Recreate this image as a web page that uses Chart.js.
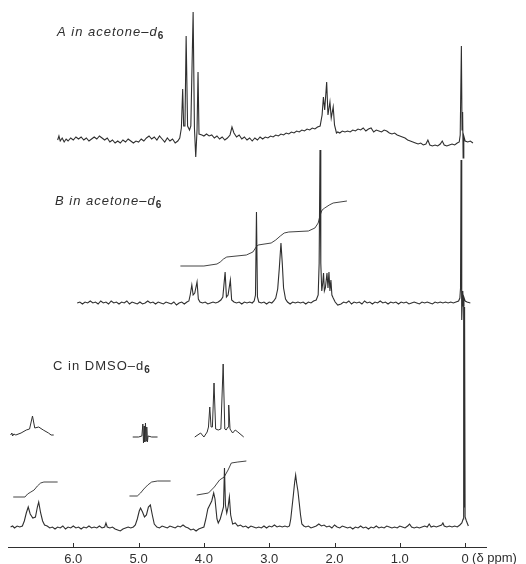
<!DOCTYPE html>
<html>
<head>
<meta charset="utf-8">
<script src="https://cdn.jsdelivr.net/npm/chart.js@4.4.0/dist/chart.umd.min.js"></script>
<style>
  html, body { margin: 0; padding: 0; background: #fff; }
  canvas { display: block; }
</style>
</head>
<body>
<canvas id="nmr" width="526" height="564"></canvas>
<script>
// [chemical shift (ppm), intensity above the trace's own baseline]

const specA = [
  [6.24, 0], [6.22, 4], [6.20, -1], [6.17, 2], [6.14, -2], [6.11, 1], [6.08, -1], [6.04, 2], [6.00, 0],
  [5.96, 3], [5.92, 1], [5.88, 3], [5.84, 0], [5.80, 2], [5.76, -1], [5.72, 1], [5.68, 3], [5.64, 1],
  [5.60, 4], [5.56, 2], [5.52, 0], [5.48, 2], [5.44, -2], [5.40, 0], [5.36, -3], [5.32, -1], [5.28, -3],
  [5.24, 0], [5.20, -2], [5.16, 1], [5.12, -1], [5.08, -3], [5.04, -1], [5.00, -2], [4.96, 1], [4.92, -1],
  [4.88, 2], [4.84, 4], [4.80, 1], [4.76, 3], [4.72, 0], [4.68, 4], [4.64, 1], [4.60, -2], [4.56, 2],
  [4.52, -1], [4.48, 1], [4.44, -3], [4.40, -1], [4.37, 2],
  [4.345, 12], [4.325, 51], [4.31, 14], [4.29, 14], [4.272, 104], [4.25, 14], [4.22, 10], [4.20, 14],
  [4.165, 128], [4.145, 12], [4.125, -17], [4.105, 10], [4.09, 68], [4.075, 6],
  [4.03, 5], [4.00, 4], [3.96, 6], [3.92, 4], [3.88, 5], [3.84, 2], [3.80, 4], [3.76, 1], [3.72, 3],
  [3.68, 0], [3.64, 2], [3.60, 5], [3.57, 13], [3.54, 7], [3.50, 3], [3.46, 5], [3.42, 1], [3.38, 3],
  [3.34, 0], [3.30, 2], [3.26, -1], [3.22, 2], [3.18, 0], [3.14, 3], [3.10, 1], [3.06, 3], [3.02, 2],
  [2.98, 4], [2.94, 3], [2.90, 5], [2.86, 4], [2.82, 6], [2.78, 5], [2.74, 7], [2.70, 6], [2.66, 8],
  [2.62, 7], [2.58, 9], [2.54, 8], [2.50, 10], [2.46, 9], [2.42, 11], [2.38, 10], [2.34, 12], [2.30, 11],
  [2.26, 13], [2.22, 14], [2.19, 25], [2.17, 43], [2.15, 30], [2.12, 58], [2.10, 25], [2.07, 38],
  [2.05, 22], [2.02, 33], [2.00, 15], [1.97, 7],
  [1.95, 8], [1.92, 7], [1.88, 9], [1.84, 8], [1.80, 9], [1.76, 8], [1.72, 10], [1.68, 9], [1.64, 11],
  [1.60, 10], [1.56, 12], [1.52, 9], [1.48, 11], [1.44, 12], [1.40, 8], [1.36, 10], [1.32, 9], [1.28, 8],
  [1.24, 10], [1.20, 9], [1.16, 7], [1.12, 6], [1.08, 7], [1.04, 5], [1.00, 4], [0.96, 3], [0.92, 2],
  [0.88, 0], [0.84, -1], [0.80, -2], [0.76, -3], [0.72, -4], [0.68, -3], [0.64, -5], [0.60, -4],
  [0.57, 0], [0.54, -5], [0.50, -6], [0.46, -5], [0.42, -6], [0.38, -4], [0.35, -1], [0.32, -5],
  [0.28, -6], [0.24, -5], [0.20, -4], [0.16, -5], [0.12, -3], [0.09, -2],
  [0.075, 5], [0.057, 94], [0.047, 10], [0.038, 28], [0.03, -18], [0.02, 4], [0.0, -1], [-0.04, -2],
  [-0.08, -1], [-0.12, -3]
];

const specB = [
  [5.94, 0], [5.90, 1], [5.86, -1], [5.82, 1], [5.78, 0], [5.74, 2], [5.70, 0], [5.66, 1], [5.62, -1],
  [5.58, 2], [5.54, 0], [5.50, 1], [5.46, -1], [5.42, 2], [5.38, 0], [5.34, 1], [5.30, -1], [5.26, 1],
  [5.22, 0], [5.18, 2], [5.14, -1], [5.10, 1], [5.06, 0], [5.02, -1], [4.98, 1], [4.94, -1], [4.90, 0],
  [4.86, 2], [4.82, 0], [4.78, 1], [4.74, -1], [4.70, 1], [4.66, 0], [4.62, -1], [4.58, 1], [4.54, 0],
  [4.50, -1], [4.46, 1], [4.42, -2], [4.38, 0], [4.34, 1], [4.30, -1], [4.26, 1], [4.23, 2],
  [4.21, 8], [4.185, 18], [4.165, 8], [4.14, 10], [4.105, 21], [4.085, 4], [4.06, 1],
  [4.02, 0], [3.98, 1], [3.94, -1], [3.90, 0], [3.86, 1], [3.82, 0], [3.78, 1], [3.74, 3], [3.71, 6],
  [3.675, 31], [3.655, 6], [3.63, 8], [3.595, 23], [3.575, 3], [3.54, 1],
  [3.50, 0], [3.46, 1], [3.42, -1], [3.38, 1], [3.34, 0], [3.30, 1], [3.26, 0], [3.23, 2],
  [3.21, 8], [3.195, 91], [3.18, 6], [3.16, 1],
  [3.12, 0], [3.08, 1], [3.04, -1], [3.00, 1], [2.96, 0], [2.93, 2],
  [2.90, 5], [2.87, 14], [2.845, 35], [2.82, 60], [2.80, 40], [2.78, 15], [2.75, 4], [2.72, 1],
  [2.68, -1], [2.64, 1], [2.60, 0], [2.56, 1], [2.52, 0], [2.48, 1], [2.44, -1], [2.40, 1], [2.36, 0],
  [2.32, 2], [2.28, 3], [2.25, 8], [2.235, 40], [2.222, 153], [2.21, 40], [2.195, 12], [2.18, 20],
  [2.168, 30], [2.155, 12], [2.14, 15], [2.115, 30], [2.10, 15], [2.085, 31], [2.07, 12], [2.055, 23],
  [2.04, 8], [2.02, 5], [1.99, 1], [1.95, -2],
  [1.90, -1], [1.86, 1], [1.82, 0], [1.78, 2], [1.74, -1], [1.70, 1], [1.66, 0], [1.62, 1], [1.58, -1],
  [1.54, 2], [1.50, 0], [1.46, 1], [1.42, -1], [1.38, 1], [1.34, 0], [1.30, 2], [1.26, 0], [1.22, 1],
  [1.18, -1], [1.14, 1], [1.10, 0], [1.06, 1], [1.02, -1], [0.98, 1], [0.94, 0], [0.90, 1], [0.86, -1],
  [0.82, 0], [0.78, 1], [0.74, 0], [0.70, -1], [0.66, 1], [0.62, 0], [0.58, 1], [0.54, 0], [0.50, -1],
  [0.46, 1], [0.42, 0], [0.38, 1], [0.34, 0], [0.30, 1], [0.26, 0], [0.22, 1], [0.18, 0], [0.14, 1],
  [0.10, 2], [0.08, 5], [0.07, 15], [0.062, 143], [0.055, 20], [0.048, -17], [0.04, 8], [0.035, 12],
  [0.03, -3], [0.02, 6], [0.0, 2], [-0.03, 1], [-0.08, 0]
];

const specC = [
  [6.96, 0], [6.93, 1], [6.90, -1], [6.86, 1], [6.82, 0], [6.78, 1], [6.75, 6], [6.72, 14], [6.69, 20],
  [6.66, 13], [6.62, 9], [6.58, 10], [6.55, 20], [6.53, 25], [6.50, 14], [6.47, 6], [6.44, 2], [6.40, 1],
  [6.36, -1], [6.32, 0], [6.28, -2], [6.24, 0], [6.20, -1], [6.16, 1], [6.12, -2], [6.08, 0], [6.04, -1],
  [6.00, 1], [5.96, -1], [5.92, 0], [5.88, -2], [5.84, 0], [5.80, -1], [5.76, 1], [5.72, -1], [5.68, 0],
  [5.64, -1], [5.60, 1], [5.56, -1], [5.52, 0], [5.50, 4], [5.48, 0], [5.44, -1], [5.40, 0], [5.36, -2],
  [5.32, -3], [5.28, -4], [5.24, -2], [5.20, -1], [5.16, 0], [5.12, -1], [5.08, 0], [5.05, 2], [5.02, 8],
  [4.99, 16], [4.97, 19], [4.94, 15], [4.91, 10], [4.88, 12], [4.85, 20], [4.82, 22], [4.79, 12],
  [4.76, 3], [4.72, 0], [4.68, -1], [4.64, 1], [4.60, 0], [4.56, -1], [4.52, 1], [4.48, 0], [4.44, -1],
  [4.40, 1], [4.36, 0], [4.32, 2], [4.28, 0], [4.24, -1], [4.20, -3], [4.16, -2], [4.12, -4], [4.08, -2],
  [4.04, -1], [4.00, 0], [3.97, 8], [3.94, 18], [3.91, 22], [3.88, 26], [3.85, 34], [3.83, 28],
  [3.80, 8], [3.78, 4], [3.75, 8], [3.70, 20], [3.685, 59], [3.67, 22], [3.65, 14], [3.63, 20],
  [3.61, 30], [3.59, 12], [3.56, 3], [3.52, 4], [3.48, 1], [3.44, 2], [3.40, 0], [3.36, 1], [3.32, -1],
  [3.28, 1], [3.24, 0], [3.20, -1], [3.16, 0], [3.12, -1], [3.08, 1], [3.04, -1], [3.00, 1], [2.96, 0],
  [2.92, 2], [2.88, 0], [2.84, 1], [2.80, 0], [2.76, 1], [2.72, 0], [2.69, 1], [2.67, 8], [2.65, 20],
  [2.63, 32], [2.61, 45], [2.595, 52], [2.58, 44], [2.56, 36], [2.54, 24], [2.52, 12], [2.50, 3],
  [2.47, 1], [2.44, 0], [2.40, 1], [2.36, -1], [2.32, 0], [2.28, 1], [2.24, 3], [2.20, 1], [2.16, 2],
  [2.12, 0], [2.08, 1], [2.04, -1], [2.00, 2], [1.96, 0], [1.92, -1], [1.88, 1], [1.84, 0], [1.80, -1],
  [1.76, 0], [1.72, -2], [1.68, 0], [1.64, -1], [1.60, 1], [1.56, -1], [1.52, 0], [1.48, -2], [1.44, 0],
  [1.40, -1], [1.36, 1], [1.32, -1], [1.28, 0], [1.24, -1], [1.20, 1], [1.16, 0], [1.12, -1], [1.08, 0],
  [1.04, -1], [1.00, 1], [0.96, 0], [0.92, -1], [0.88, 1], [0.85, 3], [0.82, 0], [0.78, -1], [0.74, 0],
  [0.70, -1], [0.66, 0], [0.62, 1], [0.58, 0], [0.55, 3], [0.52, 0], [0.48, 1], [0.44, 0], [0.40, 1],
  [0.36, 2], [0.34, 4], [0.32, 1], [0.28, 0], [0.24, 1], [0.20, 0], [0.16, 1], [0.12, 0], [0.08, 2],
  [0.05, 4], [0.03, 8], [0.022, 225], [0.015, 20], [0.008, 220], [0.0, 10], [-0.02, 6], [-0.05, 1]
];

// integral traces
const integB = [
  [4.36, 37], [4.00, 37], [3.80, 39], [3.75, 41], [3.70, 44], [3.65, 46], [3.35, 48], [3.25, 51],
  [3.20, 56], [3.17, 58], [2.97, 60], [2.90, 63], [2.83, 67], [2.77, 70], [2.70, 71], [2.40, 72],
  [2.30, 75], [2.25, 80], [2.22, 88], [2.19, 93], [2.15, 95], [2.08, 98], [2.02, 100], [1.81, 102]
];
const integC1 = [
  [6.92, 30], [6.74, 30], [6.70, 33], [6.65, 35], [6.60, 37], [6.55, 41], [6.50, 44], [6.45, 45], [6.24, 45]
];
const integC2 = [
  [5.14, 31], [5.02, 31], [4.97, 34], [4.92, 38], [4.86, 42], [4.80, 45], [4.71, 46], [4.51, 46]
];
const integC3 = [
  [4.11, 32], [3.93, 34], [3.84, 40], [3.76, 47], [3.69, 50], [3.63, 57], [3.58, 64], [3.48, 65], [3.35, 66]
];

// expanded insets above spectrum C
const insetC1 = [
  [6.96, 0], [6.94, 2], [6.93, -1], [6.91, 1], [6.88, 0], [6.80, 2], [6.72, 5], [6.67, 6],
  [6.625, 19], [6.59, 7], [6.53, 8], [6.46, 5], [6.38, 2], [6.34, 0], [6.30, 0]
];
const insetC2 = [
  [5.09, 0], [5.00, 0], [4.95, 1], [4.935, 13], [4.925, -6], [4.915, 11], [4.905, -5], [4.895, 14],
  [4.885, -4], [4.875, 10], [4.865, -5], [4.855, 1], [4.80, 0], [4.71, 0]
];
const insetC3 = [
  [4.14, -2], [4.05, 2], [4.00, -2], [3.95, 3], [3.93, 8], [3.91, 28], [3.89, 8], [3.87, 8],
  [3.845, 52], [3.82, 6], [3.78, 5], [3.74, 6], [3.705, 71], [3.68, 6], [3.66, 5], [3.63, 8],
  [3.62, 30], [3.60, 6], [3.56, 2], [3.52, 5], [3.48, 3], [3.39, -2]
];

const tickValues = [6, 5, 4, 3, 2, 1, 0];
const axisUnit = '(δ ppm)';
const spectrumNames = ['A in acetone–d', 'B in acetone–d', 'C in DMSO–d'];
const subscript = '6';

// vertical placement of each trace on the chart (baseline height)
const traceOffset = { A: 407, B: 244, C: 20, insetC1: 112, insetC2: 110, insetC3: 112 };
// where each spectrum's name sits: [ppm, height]
const nameAnchor = [[6.25, 515], [6.28, 346], [6.31, 181]];

const ink = '#2f2f2f';

function trace(points, offset, width) {
  return {
    data: points.map(p => ({ x: p[0], y: p[1] + offset })),
    borderColor: ink,
    borderWidth: width || 1,
    pointRadius: 0,
    tension: 0,
    fill: false
  };
}

const datasets = [
  trace(specA, traceOffset.A, 1.1),
  trace(specB, traceOffset.B, 1.1),
  trace(integB, traceOffset.B, 0.9),
  trace(specC, traceOffset.C, 1.1),
  trace(integC1, traceOffset.C, 0.9),
  trace(integC2, traceOffset.C, 0.9),
  trace(integC3, traceOffset.C, 0.9),
  trace(insetC1, traceOffset.insetC1, 1),
  trace(insetC2, traceOffset.insetC2, 1),
  trace(insetC3, traceOffset.insetC3, 1)
];

const decorations = {
  id: 'decorations',
  afterDraw(chart) {
    const ctx = chart.ctx;
    const xs = chart.scales.x;
    const ys = chart.scales.y;
    const base = chart.chartArea.bottom;
    ctx.save();
    // short upward tick marks
    ctx.strokeStyle = ink;
    ctx.lineWidth = 1;
    tickValues.forEach(v => {
      const px = Math.round(xs.getPixelForValue(v)) + 0.5;
      ctx.beginPath();
      ctx.moveTo(px, base);
      ctx.lineTo(px, base - 4);
      ctx.stroke();
    });
    // unit after the zero label
    ctx.fillStyle = ink;
    ctx.font = '13px "Liberation Sans", Arial, sans-serif';
    ctx.textBaseline = 'top';
    ctx.textAlign = 'left';
    ctx.fillText(axisUnit, xs.getPixelForValue(0) + 7, base + 5);
    // spectrum names with subscript
    spectrumNames.forEach((name, i) => {
      const x = xs.getPixelForValue(nameAnchor[i][0]);
      const y = ys.getPixelForValue(nameAnchor[i][1]);
      const italic = i < 2 ? 'italic ' : '';
      ctx.textBaseline = 'middle';
      ctx.font = italic + '13px "Liberation Sans", Arial, sans-serif';
      ctx.letterSpacing = '1px';
      ctx.fillText(name, x, y);
      const w = ctx.measureText(name).width;
      ctx.font = 'bold 10px "Liberation Sans", Arial, sans-serif';
      ctx.letterSpacing = '0px';
      ctx.fillText(subscript, x + w, y + 4);
    });
    ctx.restore();
  }
};

new Chart(document.getElementById('nmr'), {
  type: 'line',
  data: { datasets },
  plugins: [decorations],
  options: {
    responsive: false,
    animation: false,
    devicePixelRatio: 1,
    layout: { padding: { left: 8, right: 40, top: 0, bottom: 0 } },
    plugins: { legend: { display: false }, tooltip: { enabled: false } },
    scales: {
      x: {
        type: 'linear',
        reverse: true,
        min: -0.32,
        max: 7.0,
        grid: { display: false, drawTicks: false },
        border: { display: true, color: ink, width: 1 },
        afterBuildTicks: scale => { scale.ticks = tickValues.map(v => ({ value: v })); },
        afterFit: scale => { scale.height = 17; },
        ticks: {
          autoSkip: false,
          maxRotation: 0,
          padding: 5,
          color: ink,
          font: { family: '"Liberation Sans", Arial, sans-serif', size: 13 },
          callback: v => (v === 0 ? '0' : v.toFixed(1))
        }
      },
      y: { type: 'linear', display: false, min: 0, max: 547 }
    }
  }
});
</script>
</body>
</html>
